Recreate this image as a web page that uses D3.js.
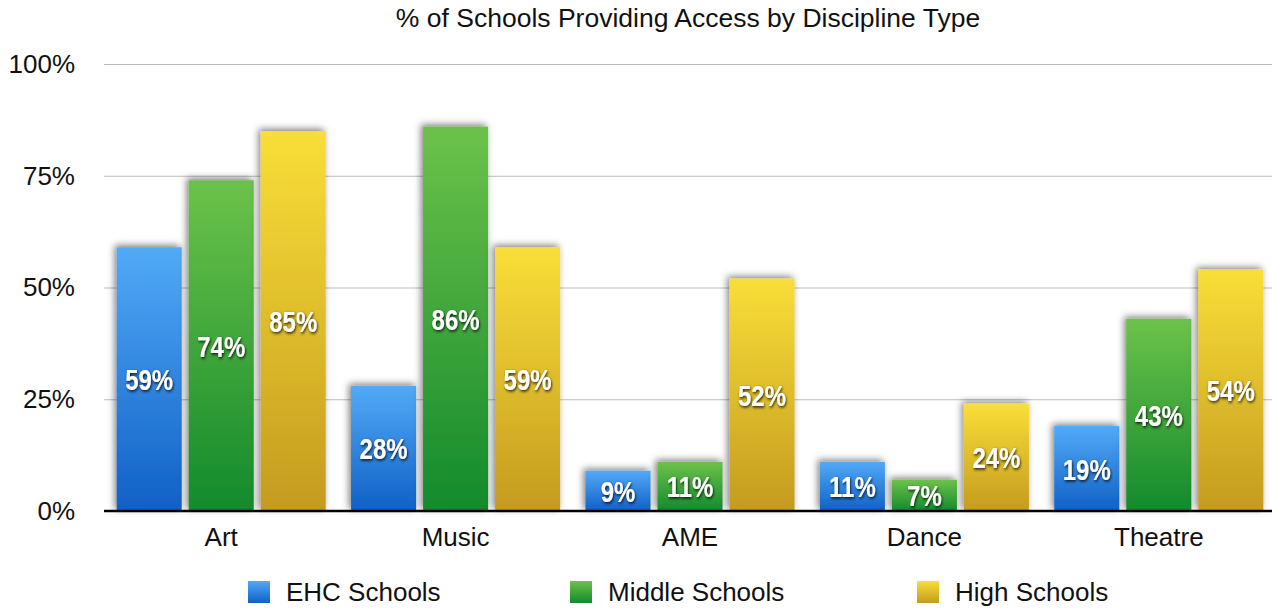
<!DOCTYPE html>
<html><head><meta charset="utf-8">
<script src="https://cdn.jsdelivr.net/npm/d3@7"></script>
<style>body{margin:0;background:#fff}svg{display:block}</style>
</head><body><svg id="c" width="1272" height="608"></svg>
<script>
const categories = ["Art","Music","AME","Dance","Theatre"];
const seriesNames = ["EHC Schools","Middle Schools","High Schools"];
const ehc = [59,28,9,11,19];
const middle = [74,86,11,7,43];
const high = [85,59,52,24,54];
const yTicks = [0,25,50,75,100];
const values = [ehc, middle, high];

const FONT = "Liberation Sans, Arial, sans-serif";
const svg = d3.select("#c");
const y = d3.scaleLinear().domain([0,100]).range([511,64]);
const x0 = d3.scaleBand().domain(categories).range([104,1276]).paddingInner(0.108).paddingOuter(0.054);
const x1 = d3.scaleBand().domain(d3.range(3)).range([0,x0.bandwidth()]).paddingInner(0.097).paddingOuter(0);

const defs = svg.append("defs");
const grads = [["#52aaf7","#1060c6"],["#6cc24a","#138a2c"],["#f9de38","#c49b1f"]];
grads.forEach((g,i)=>{
  const lg = defs.append("linearGradient").attr("id","g"+i).attr("x1",0).attr("y1",0).attr("x2",0).attr("y2",1);
  lg.append("stop").attr("offset","0%").attr("stop-color",g[0]);
  lg.append("stop").attr("offset","100%").attr("stop-color",g[1]);
});
const f = defs.append("filter").attr("id","sh").attr("x","-30%").attr("y","-30%").attr("width","160%").attr("height","160%");
f.append("feDropShadow").attr("dx",-2).attr("dy",-2).attr("stdDeviation",3.5).attr("flood-color","#000").attr("flood-opacity",0.5);
const ft = defs.append("filter").attr("id","tsh").attr("x","-30%").attr("y","-30%").attr("width","160%").attr("height","160%");
ft.append("feDropShadow").attr("dx",1).attr("dy",1.5).attr("stdDeviation",1.5).attr("flood-color","#000").attr("flood-opacity",0.85);

// title
svg.append("text").attr("x",688).attr("y",27).attr("text-anchor","middle")
  .attr("font-family",FONT).attr("font-size",26.5).attr("fill","#111")
  .text("% of Schools Providing Access by Discipline Type");

// grid
const yAxis = d3.axisLeft(y).tickValues(yTicks).tickSize(-(1272-104)).tickFormat(d=>d+"%");
const ga = svg.append("g").attr("transform","translate(104,0)").call(yAxis);
ga.select(".domain").remove();
ga.selectAll(".tick line").attr("stroke","#bbb").attr("stroke-width",1);
ga.selectAll(".tick text").attr("x",-29).attr("font-family",FONT).attr("font-size",26).attr("fill","#111");

// bars
const groups = svg.append("g").selectAll("g").data(categories).join("g")
  .attr("transform",d=>`translate(${x0(d)},0)`);
groups.each(function(c,ci){
  const g = d3.select(this);
  const data = values.map((s,si)=>({si, v:s[ci]}));
  g.selectAll("rect").data(data).join("rect")
    .attr("x",d=>x1(d.si)).attr("width",x1.bandwidth())
    .attr("y",d=>y(d.v)).attr("height",d=>y(0)-y(d.v))
    .attr("fill",d=>`url(#g${d.si})`).attr("filter","url(#sh)");
  g.selectAll("text").data(data).join("text")
    .attr("transform",d=>`translate(${x1(d.si)+x1.bandwidth()/2},${(y(d.v)+y(0))/2+11}) scale(0.8,1)`)
    .attr("text-anchor","middle")
    .attr("font-family",FONT)
    .attr("font-weight","bold").attr("font-size",30).attr("fill","#fff")
    .attr("filter","url(#tsh)")
    .text(d=>d.v+"%");
});

// baseline
svg.append("line").attr("x1",104).attr("x2",1272).attr("y1",y(0)).attr("y2",y(0)).attr("stroke","#000").attr("stroke-width",2.5);

// x axis labels
const xAxis = d3.axisBottom(x0).tickSize(0).tickPadding(16.5);
const gx = svg.append("g").attr("transform",`translate(0,${y(0)})`).call(xAxis);
gx.select(".domain").remove();
gx.selectAll("text").attr("font-family",FONT).attr("font-size",26).attr("fill","#111");

// legend
const legX = [248,570,917];
const leg = svg.append("g").selectAll("g").data(seriesNames).join("g")
  .attr("transform",(d,i)=>`translate(${legX[i]},581)`);
leg.append("rect").attr("width",22).attr("height",22).attr("fill",(d,i)=>`url(#g${i})`);
leg.append("text").attr("x",38).attr("y",20).attr("font-family",FONT)
  .attr("font-size",26).attr("fill","#111").text(d=>d);
</script></body></html>
